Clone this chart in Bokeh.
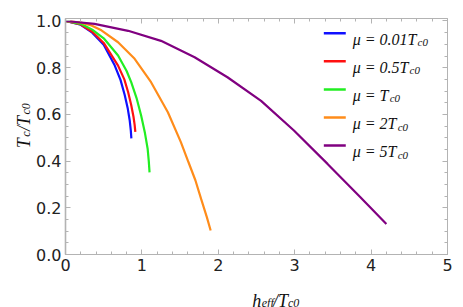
import numpy as np
from bokeh.plotting import figure
from bokeh.layouts import row, column
from bokeh.models import (Range1d, LinearAxis, FixedTicker, NumeralTickFormatter,
                          CustomJSTickFormatter, Label)
from bokeh.embed import file_html
from bokeh.resources import INLINE

# ---------------- data ----------------
mu_labels = ["0.01", "0.5", "", "2", "5"]
colors = ["#1010ff", "#ff1010", "#22ee22", "#ff8c1a", "#800080"]

h_mu001 = [0.0, 0.2, 0.35, 0.5, 0.645, 0.72, 0.775, 0.815, 0.84, 0.855, 0.862]
t_mu001 = [1.0, 0.984, 0.950, 0.898, 0.809, 0.748, 0.683, 0.625, 0.575, 0.530, 0.497]

h_mu05 = [0.0, 0.2, 0.35, 0.5, 0.688, 0.77, 0.82, 0.86, 0.89, 0.905, 0.914]
t_mu05 = [1.0, 0.985, 0.954, 0.906, 0.809, 0.750, 0.695, 0.640, 0.590, 0.555, 0.525]

h_mu1 = [0.0, 0.2, 0.35, 0.5, 0.688, 0.80, 0.86, 0.93, 0.99, 1.04, 1.075, 1.09, 1.10]
t_mu1 = [1.0, 0.988, 0.963, 0.926, 0.852, 0.786, 0.738, 0.670, 0.595, 0.520, 0.453, 0.40, 0.352]

h_mu2 = [0.0, 0.2, 0.34, 0.47, 0.688, 0.905, 1.12, 1.34, 1.51, 1.61, 1.70, 1.775, 1.85, 1.90]
t_mu2 = [1.0, 0.993, 0.981, 0.960, 0.909, 0.838, 0.738, 0.609, 0.481, 0.395, 0.318, 0.238, 0.160, 0.103]

h_mu5 = [0.0, 0.38, 0.82, 1.25, 1.69, 2.12, 2.56, 2.99, 3.43, 3.86, 4.20]
t_mu5 = [1.0, 0.988, 0.958, 0.915, 0.845, 0.759, 0.658, 0.531, 0.388, 0.245, 0.131]

series_h = [h_mu001, h_mu05, h_mu1, h_mu2, h_mu5]
series_t = [t_mu001, t_mu05, t_mu1, t_mu2, t_mu5]

x_ticks = [0, 1, 2, 3, 4, 5]
x_minor = [0.2 * i for i in range(26)]
y_ticks = [0.0, 0.2, 0.4, 0.6, 0.8, 1.0]
y_minor = [0.05 * i for i in range(21)]

# ---------------- layout (page pixels) ----------------
TOTAL_W, TOTAL_H = 455, 307
YLAB_W = 33                    # strip for the y-axis title
ML, MR, MT, MB = 64 - YLAB_W, 8, 18, 33
W = TOTAL_W - YLAB_W           # main figure width
FW, FH = W - ML - MR, 236
H = MT + FH + MB               # main figure height
XLAB_H = TOTAL_H - H           # strip for the x-axis title
X0, X1 = 0.0, 5.0
Y0, Y1 = 0.0, 1.0107


def dx(px):  # page-pixel x -> data x of main plot
    return X0 + (px - YLAB_W - ML) * (X1 - X0) / FW


def dy(py):  # page-pixel y (from top) -> data y of main plot
    return Y0 + (MT + FH - py) * (Y1 - Y0) / FH


SERIF_W = {' ': 0.25, '=': 0.675, '.': 0.25, 'T': 0.556, 'c': 0.444, 'h': 0.5,
           'e': 0.444, 'f': 0.278, '/': 0.278, 'μ': 0.52}
ITAL_GAP = 1.0
SERIF = "Liberation Serif"
TXT_COL = "#111111"


def tw(s, size):
    return sum(SERIF_W.get(ch, 0.5) for ch in s) * size


p = figure(width=W, height=H, output_backend="svg", toolbar_location=None,
           title_location=None,
           x_range=Range1d(X0, X1), y_range=Range1d(Y0, Y1),
           min_border_left=ML, min_border_right=MR, min_border_top=MT,
           min_border_bottom=MB, x_axis_location=None, y_axis_location=None)
p.outline_line_color = None
p.grid.visible = False
p.background_fill_color = "white"
p.border_fill_color = "white"

AX_COL = "#b3b3b3"
LBL_COL = "#222222"


def make_axis(ticks, minor, fmt, show):
    ax = LinearAxis(ticker=FixedTicker(ticks=ticks, minor_ticks=minor))
    ax.axis_line_color = AX_COL
    ax.major_tick_line_color = AX_COL
    ax.minor_tick_line_color = AX_COL
    ax.major_tick_in = 5
    ax.major_tick_out = 0
    ax.minor_tick_in = 3
    ax.minor_tick_out = 0
    if show:
        ax.formatter = NumeralTickFormatter(format=fmt)
        ax.major_label_text_font = "DejaVu Sans"
        ax.major_label_text_font_size = "16px"
        ax.major_label_text_color = LBL_COL
    else:
        ax.formatter = CustomJSTickFormatter(code="return ''")
        ax.major_label_standoff = 0
    return ax


bx = make_axis(x_ticks, x_minor, "0", True)
bx.major_label_standoff = 4
ly = make_axis(y_ticks, y_minor, "0.0", True)
ly.major_label_standoff = 4
ly.axis_line_width = 1.6
tx = make_axis(x_ticks, x_minor, "0", False)
ry = make_axis(y_ticks, y_minor, "0.0", False)
p.add_layout(bx, "below")
p.add_layout(ly, "left")
p.add_layout(tx, "above")
p.add_layout(ry, "right")

for hs, ts, c in zip(series_h, series_t, colors):
    p.line(hs, ts, line_color=c, line_width=2.2)

# ---------------- legend ----------------
ROW0, ROWSTEP = 32.7, 28.1
LX0, LX1, TX0 = 323, 345, 352
F_MAIN, F_SUB = 16, 11
for i, (m, c) in enumerate(zip(mu_labels, colors)):
    r = ROW0 + ROWSTEP * i
    p.segment(x0=[dx(LX0)], y0=[dy(r)], x1=[dx(LX1)], y1=[dy(r)],
              line_color=c, line_width=2.5)
    main = "μ = " + m + "T"
    p.add_layout(Label(x=dx(TX0), y=dy(r + 6), text=main, text_font=SERIF,
                       text_font_style="italic", text_font_size=f"{F_MAIN}px",
                       text_color=TXT_COL, text_baseline="alphabetic"))
    p.add_layout(Label(x=dx(TX0 + tw(main, F_MAIN) + ITAL_GAP), y=dy(r + 9),
                       text="c0", text_font=SERIF, text_font_style="italic",
                       text_font_size=f"{F_SUB}px", text_color=TXT_COL,
                       text_baseline="alphabetic"))


# ---------------- axis titles in their own strips ----------------
def strip(w, h):
    f = figure(width=w, height=h, output_backend="svg", toolbar_location=None,
               title_location=None,
               x_range=Range1d(0, w), y_range=Range1d(0, h), min_border=0,
               x_axis_location=None, y_axis_location=None)
    f.outline_line_color = None
    f.grid.visible = False
    f.background_fill_color = "white"
    f.border_fill_color = "white"
    return f


AM, AS, SUB_OFF = 18, 12, 2.5


def piece_w(s, f, off):
    return tw(s, f) + (ITAL_GAP + 0.5 if off == 0 else 0.5)


# x title: h_eff / T_c0 (positions relative to the strip's top edge)
xs = strip(W, XLAB_H)
pieces_x = [("h", AM, 0), ("eff", AS, SUB_OFF), ("/T", AM, 0), ("c0", AS, SUB_OFF)]
total = sum(piece_w(*pc) for pc in pieces_x)
cx, base_local = 265, 13
xpos = cx - total / 2
for s, f, off in pieces_x:
    xs.add_layout(Label(x=xpos - YLAB_W, y=XLAB_H - (base_local + off), text=s,
                        text_font=SERIF, text_font_style="italic",
                        text_font_size=f"{f}px", text_color=TXT_COL,
                        text_baseline="alphabetic"))
    xpos += piece_w(s, f, off)

# y title: T_c / T_c0 (rotated)
ys = strip(YLAB_W, TOTAL_H)
pieces_y = [("T", AM, 0), ("c", AS, SUB_OFF), ("/T", AM, 0), ("c0", AS, SUB_OFF)]
total = sum(piece_w(*pc) for pc in pieces_y)
cy, basex = 125, 23            # page pixels
ypos = cy + total / 2
for s, f, off in pieces_y:
    ys.add_layout(Label(x=basex + off, y=TOTAL_H - ypos, text=s,
                        text_font=SERIF, text_font_style="italic",
                        text_font_size=f"{f}px", text_color=TXT_COL,
                        text_baseline="alphabetic", angle=np.pi / 2))
    ypos -= piece_w(s, f, off)

layout = row(ys, column(p, xs))
open("out.html", "w").write(file_html(layout, INLINE))
